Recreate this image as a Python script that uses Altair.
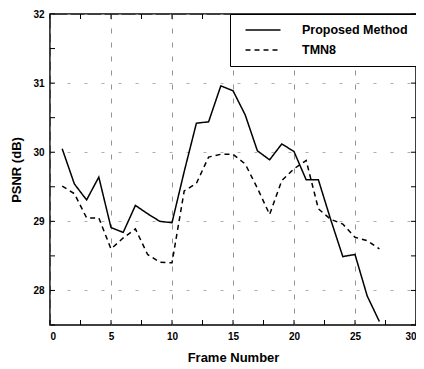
import altair as alt
import pandas as pd

frames = list(range(1, 28))
proposed = [30.05, 29.54, 29.31, 29.64, 28.91, 28.84, 29.23, 29.11, 29.00, 28.98,
            29.72, 30.42, 30.44, 30.96, 30.89, 30.54, 30.02, 29.89, 30.12, 30.01,
            29.60, 29.60, 29.03, 28.49, 28.52, 27.92, 27.55]
tmn8 = [29.51, 29.40, 29.05, 29.05, 28.60, 28.76, 28.89, 28.52, 28.41, 28.40,
        29.44, 29.55, 29.93, 29.97, 29.97, 29.83, 29.48, 29.10, 29.59, 29.76,
        29.88, 29.18, 29.03, 28.96, 28.77, 28.72, 28.60]
series_names = ["Proposed Method", "TMN8"]
x_ticks = [0, 5, 10, 15, 20, 25, 30]
y_ticks = [28, 29, 30, 31, 32]
x_minor = [2.5, 7.5, 12.5, 17.5, 22.5, 27.5]
y_minor = [27.5, 28.5, 29.5, 30.5, 31.5]

rows = []
for name, vals in zip(series_names, [proposed, tmn8]):
    for f, v in zip(frames, vals):
        rows.append({"frame": f, "psnr": v, "method": name})
df = pd.DataFrame(rows)

W, H = 366, 311
xs = alt.Scale(domain=[0, 30], nice=False)
ys = alt.Scale(domain=[27.5, 32], nice=False)

font = "Liberation Sans"

lines = alt.Chart(df).mark_line(color="black", strokeWidth=1.5, clip=True).encode(
    x=alt.X("frame:Q", scale=xs, title="Frame Number",
            axis=alt.Axis(values=x_ticks, format="d", grid=True, gridDash=[5, 9],
                          gridColor="#777", gridWidth=0.8, ticks=False,
                          labelPadding=6, titlePadding=10, domain=False)),
    y=alt.Y("psnr:Q", scale=ys, title="PSNR (dB)",
            axis=alt.Axis(values=y_ticks, format="d", grid=True, gridDash=[3, 14],
                          gridColor="#999", gridWidth=0.8, ticks=False,
                          labelPadding=6, titlePadding=9, domain=False)),
    strokeDash=alt.StrokeDash("method:N",
                              scale=alt.Scale(domain=series_names, range=[[1, 0], [5, 4]]),
                              legend=alt.Legend(title=None, orient="none", legendX=180, legendY=0,
                                                strokeColor="black", fillColor="white",
                                                padding=9, symbolType="M-3,0H3",
                                                symbolSize=136, symbolStrokeWidth=1.5,
                                                symbolStrokeColor="black", symbolOffset=17,
                                                labelFontSize=12.5, labelFont=font,
                                                labelFontWeight="bold", labelColor="black",
                                                labelLimit=300, labelOffset=32, rowPadding=6)),
)

# inward tick marks (MATLAB style)
xt = pd.DataFrame({"v": x_ticks + x_minor})
yt = pd.DataFrame({"v": y_ticks + y_minor})
tick_len = 5
bottom_ticks = alt.Chart(xt).mark_rule(color="black", strokeWidth=1).encode(
    x=alt.X("v:Q", scale=xs), y=alt.value(H), y2=alt.value(H - tick_len))
top_ticks = alt.Chart(xt).mark_rule(color="black", strokeWidth=1).encode(
    x=alt.X("v:Q", scale=xs), y=alt.value(0), y2=alt.value(tick_len))
left_ticks = alt.Chart(yt).mark_rule(color="black", strokeWidth=1).encode(
    y=alt.Y("v:Q", scale=ys), x=alt.value(0), x2=alt.value(tick_len))
right_ticks = alt.Chart(yt).mark_rule(color="black", strokeWidth=1).encode(
    y=alt.Y("v:Q", scale=ys), x=alt.value(W), x2=alt.value(W - tick_len))

chart = alt.layer(lines, bottom_ticks, top_ticks, left_ticks, right_ticks).properties(
    width=W, height=H,
    autosize=alt.AutoSizeParams(type="none"),
    padding={"left": 42, "top": 6, "right": 0, "bottom": 38},
).configure_view(stroke="black", strokeWidth=1.5).configure_axis(
    labelFont=font, labelFontSize=10, labelFontWeight="bold", labelColor="black",
    titleFont=font, titleFontSize=13, titleFontWeight="bold", titleColor="black",
)

chart.save("out.html", embed_options={"renderer": "svg", "actions": False})
